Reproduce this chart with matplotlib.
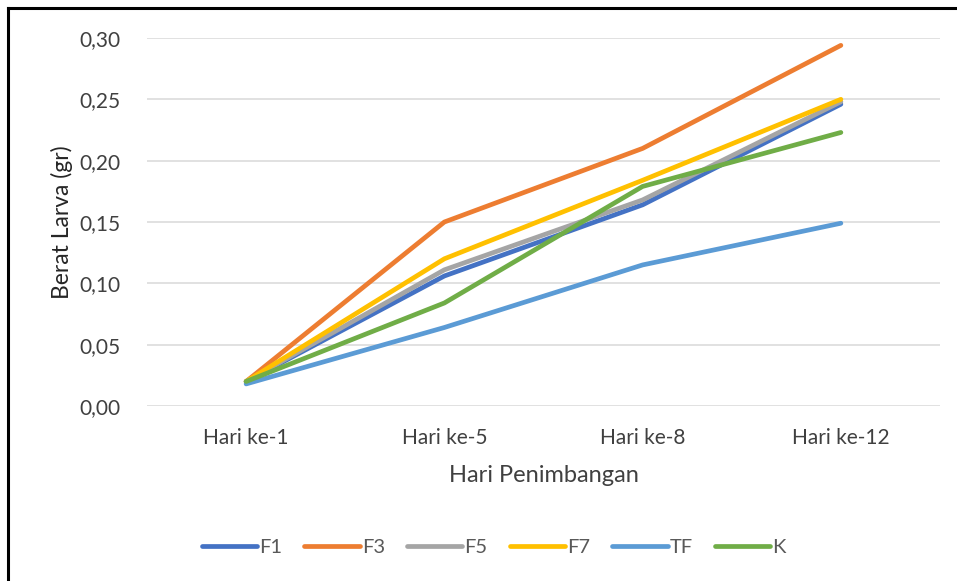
import matplotlib
matplotlib.use("Agg")
import matplotlib.pyplot as plt
from matplotlib.lines import Line2D
from matplotlib.ticker import FuncFormatter

plt.rcParams['font.family'] = ['Lato', 'DejaVu Sans']

days = ["Hari ke-1", "Hari ke-5", "Hari ke-8", "Hari ke-12"]
series_names = ["F1", "F3", "F5", "F7", "TF", "K"]
f1 = [0.020, 0.106, 0.164, 0.246]
f3 = [0.020, 0.150, 0.210, 0.294]
f5 = [0.020, 0.111, 0.168, 0.248]
f7 = [0.020, 0.120, 0.184, 0.250]
tf = [0.018, 0.064, 0.115, 0.149]
k = [0.020, 0.084, 0.179, 0.223]
y_ticks = [0.00, 0.05, 0.10, 0.15, 0.20, 0.25, 0.30]

colors = ["#4472C4", "#ED7D31", "#A5A5A5", "#FFC000", "#5B9BD5", "#70AD47"]
values = [f1, f3, f5, f7, tf, k]

fig = plt.figure(figsize=(9.57, 5.81), dpi=100)
ax = fig.add_axes([147 / 957, 1 - 406 / 581, 793 / 957, 368 / 581])

x = list(range(len(days)))
for name, vals, c in zip(series_names, values, colors):
    ax.plot(x, vals, color=c, lw=3.4, solid_capstyle='round',
            solid_joinstyle='round', label=name, zorder=3)

ax.set_xlim(-0.5, len(days) - 0.5)
ax.set_ylim(0, 0.30)
ax.set_yticks(y_ticks)
ax.yaxis.set_major_formatter(FuncFormatter(lambda v, p: f"{v:.2f}".replace('.', ',')))
ax.set_xticks(x)
ax.set_xticklabels(days)
ax.grid(axis='y', color='#D9D9D9', lw=1.1, zorder=0)
for s in ax.spines.values():
    s.set_visible(False)
ax.tick_params(axis='y', length=0, labelsize=15, colors='#404040', pad=19)
ax.tick_params(axis='x', length=0, labelsize=15, colors='#404040', pad=16)

ax.set_ylabel("Berat Larva (gr)", fontsize=16.5, color='#262626', labelpad=5)
ax.set_xlabel("Hari Penimbangan", fontsize=17, color='#404040', labelpad=12)

handles = [Line2D([], [], color=c, lw=3.4, solid_capstyle='round') for c in colors]
fig.legend(handles, series_names, loc='center', bbox_to_anchor=(0.516, 1 - 547 / 581),
           ncol=6, frameon=False, fontsize=14.5, handlelength=2.75, handletextpad=0.1,
           columnspacing=1.1, labelcolor='#595959')

# outer frame edges
fig.add_artist(Line2D([8 / 957, 8 / 957], [0, 1 - 8 / 581], transform=fig.transFigure,
                      color='black', lw=2.2))
fig.add_artist(Line2D([8 / 957, 1], [1 - 8 / 581, 1 - 8 / 581], transform=fig.transFigure,
                      color='black', lw=2.2))

fig.savefig("out.png", dpi=100)
